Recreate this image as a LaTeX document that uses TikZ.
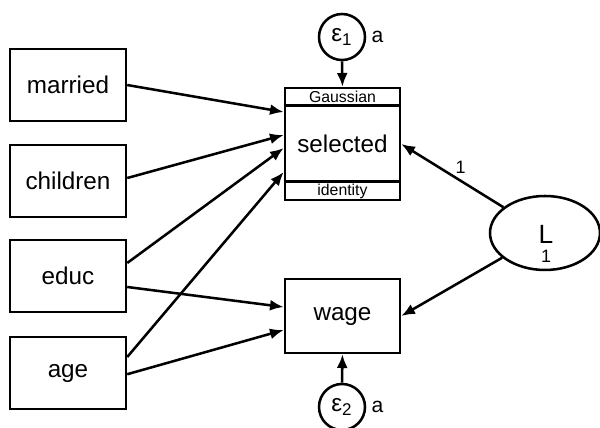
\documentclass[tikz,border=0pt]{standalone}
\usepackage{fontspec}
\setmainfont{Liberation Sans}
\usetikzlibrary{arrows.meta, shapes.geometric}

\begin{document}
\begin{tikzpicture}[
		obs/.style={draw, line width=1.2pt, minimum width=1.933cm, minimum height=1.2cm, font=\fontsize{11.5}{13}\selectfont},
		err/.style={draw, circle, line width=1.2pt, minimum size=0.767cm, inner sep=0pt, font=\fontsize{11.5}{12}\selectfont,
			label={[font=\fontsize{10}{12}\selectfont, label distance=-1pt]right:a}},
		arr/.style={line width=1.2pt, -{Latex[length=6.5pt,width=5.2pt]}},
		smalltxt/.style={font=\fontsize{7.5}{9}\selectfont, inner sep=0pt}
	]
		\useasboundingbox (0,0) rectangle (10,-7.117);
		
		\node[obs] (married) at (1.133,-1.417) {married};
		\node[obs] (children) at (1.133,-3.017) {children};
		\node[obs] (educ) at (1.133,-4.6) {educ};
		\node[obs] (age) at (1.133,-6.217) {age};
		
		\node[obs, minimum width=1.917cm, minimum height=1.867cm] (sel) at (5.708,-2.4) {selected};
		\draw[line width=1.2pt] ([yshift=-0.317cm]sel.north west) -- ([yshift=-0.317cm]sel.north east);
		\draw[line width=1.2pt] ([yshift=0.333cm]sel.south west) -- ([yshift=0.333cm]sel.south east);
		\node[smalltxt] (gauss) at ([yshift=-0.17cm]sel.north) {Gaussian};
		\node[smalltxt] (ident) at ([yshift=0.167cm]sel.south) {identity};
		
		\node[obs, minimum width=1.917cm, minimum height=1.233cm] (wage) at (5.708,-5.267) {wage};
		
		\node[err] (e1) at (5.7,-0.617) {ε\textsubscript{1}};
		\node[err] (e2) at (5.7,-6.783) {ε\textsubscript{2}};
		
		\node[draw, ellipse, line width=1.2pt, minimum width=1.833cm, minimum height=1.233cm, inner sep=0pt] (L) at (9.083,-3.883) {};
		\node[font=\fontsize{12.5}{14}\selectfont, inner sep=0pt] (Lname) at (9.1,-3.9) {L};
		\node[font=\fontsize{8.5}{10}\selectfont, inner sep=0pt] (Lvar) at (9.1,-4.27) {1};
		
		\draw[arr] (married.east) -- ([yshift=0.533cm]sel.west);
		\draw[arr] ([yshift=0.05cm]children.east) -- ([yshift=0.15cm]sel.west);
		\draw[arr] ([yshift=0.217cm]educ.east) -- ([yshift=-0.067cm]sel.west);
		\draw[arr] ([yshift=0.267cm]age.east) -- ([yshift=-0.467cm]sel.west);
		\draw[arr] ([yshift=-0.183cm]educ.east) -- ([yshift=0.15cm]wage.west);
		\draw[arr] ([yshift=-0.02cm]age.east) -- ([yshift=-0.233cm]wage.west);
		
		\draw[arr] (L) -- (sel.east) node[pos=0.42, above=3pt, font=\fontsize{8.5}{10}\selectfont, inner sep=0pt] {1};
		\draw[arr] (L) -- (wage.east);
		
		\draw[arr] (e1.south) -- (sel.north);
		\draw[arr] (e2.north) -- (wage.south);
		
	\end{tikzpicture}
\end{document}
